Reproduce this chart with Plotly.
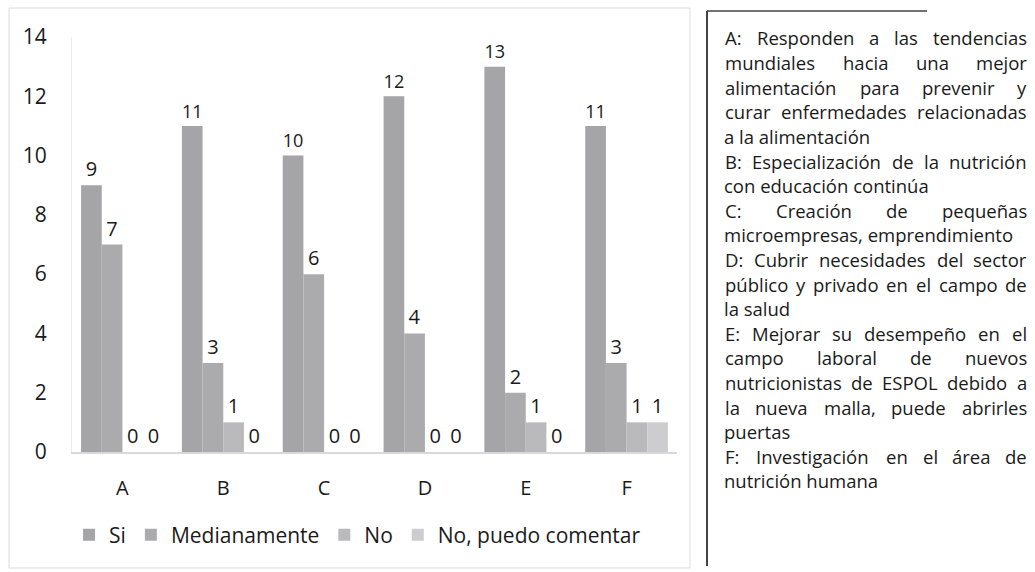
import plotly.graph_objects as go

categories = ["A", "B", "C", "D", "E", "F"]
si = [9, 11, 10, 12, 13, 11]
medianamente = [7, 3, 6, 4, 2, 3]
no = [0, 1, 0, 0, 1, 1]
no_puedo = [0, 0, 0, 0, 0, 1]
series_names = ["Si", "Medianamente", "No", "No, puedo comentar"]
series_colors = ["#a5a5a7", "#ababad", "#bababc", "#cdcdd0"]

# (line text, is last line of its paragraph)
desc_lines = [
    ("A: Responden a las tendencias", False),
    ("mundiales hacia una mejor", False),
    ("alimentación para prevenir y", False),
    ("curar enfermedades relacionadas", False),
    ("a la alimentación", True),
    ("B: Especialización de la nutrición", False),
    ("con educación continúa", True),
    ("C: Creación de pequeñas", False),
    ("microempresas, emprendimiento", True),
    ("D: Cubrir necesidades del sector", False),
    ("público y privado en el campo de", False),
    ("la salud", True),
    ("E: Mejorar su desempeño en el", False),
    ("campo laboral de nuevos", False),
    ("nutricionistas de ESPOL debido a", False),
    ("la nueva malla, puede abrirles", False),
    ("puertas", True),
    ("F: Investigación en el área de", False),
    ("nutrición humana", True),
]

FONT = "Open Sans"
W, H = 1035, 572
PL, PR, PT, PB = 72, 677, 37, 452  # plot area in pixels


def px(x):
    return (x - PL) / (PR - PL)


def py(y):
    return (PB - y) / (PB - PT)


fig = go.Figure()
for name, vals, col in zip(series_names, [si, medianamente, no, no_puedo], series_colors):
    fig.add_trace(go.Bar(
        x=categories, y=vals, name=name, marker=dict(color=col, line=dict(width=0)),
        text=[str(v) for v in vals], textposition="outside", cliponaxis=False,
        textfont=dict(family=FONT, size=20, color="#1a1a1a"),
    ))

fig.update_layout(
    width=W, height=H,
    margin=dict(l=PL, r=W - PR, t=PT, b=H - PB, autoexpand=False),
    paper_bgcolor="white", plot_bgcolor="white",
    barmode="group", bargap=0.18, bargroupgap=0,
    font=dict(family=FONT, color="#1a1a1a"),
    showlegend=True,
    legend=dict(orientation="h", x=0.472, xanchor="center", y=1 - 535 / H, yanchor="middle",
                yref="container", xref="paper",
                font=dict(family=FONT, size=21, color="#1a1a1a"),
                itemwidth=30, traceorder="normal", bgcolor="rgba(0,0,0,0)"),
    xaxis=dict(showline=True, linecolor="#d9d9d9", linewidth=2, showgrid=False,
               ticks="", tickfont=dict(family=FONT, size=20, color="#1a1a1a"),
               ticklabelstandoff=17),
    yaxis=dict(range=[0, 14], dtick=2, showline=True, linecolor="#ececec", linewidth=1,
               showgrid=False, zeroline=False, ticks="",
               tickfont=dict(family=FONT, size=21, color="#1a1a1a"),
               ticklabelstandoff=20),
)

# chart border
fig.add_shape(type="rect", xref="paper", yref="paper",
              x0=px(9), x1=px(690), y0=py(568), y1=py(8),
              line=dict(color="#dcdcdc", width=1))
# right text box border
fig.add_shape(type="line", xref="paper", yref="paper",
              x0=px(707), x1=px(707), y0=py(566), y1=py(11),
              line=dict(color="#444444", width=2))
fig.add_shape(type="line", xref="paper", yref="paper",
              x0=px(707), x1=px(927), y0=py(11), y1=py(11),
              line=dict(color="#444444", width=1.5))

# approximate Open Sans advance widths (em) for justification
CW = {
    'a': .556, 'b': .613, 'c': .48, 'd': .613, 'e': .561, 'f': .336, 'g': .546, 'h': .614,
    'i': .258, 'j': .258, 'k': .53, 'l': .258, 'm': .932, 'n': .614, 'o': .603, 'p': .613,
    'q': .613, 'r': .409, 's': .477, 't': .353, 'u': .614, 'v': .5, 'w': .778, 'x': .524,
    'y': .5, 'z': .462, ' ': .26, ':': .266, ',': .245, '.': .266,
    'A': .633, 'B': .647, 'C': .631, 'D': .729, 'E': .556, 'F': .516, 'L': .519, 'M': .9,
    'O': .78, 'P': .604, 'S': .549,
}
ACC = str.maketrans("áéíóúñ", "aeioun")


def wlen(s, size):
    return sum(CW.get(ch, .56) for ch in s.translate(ACC)) * size


TX0, TX1 = 725, 1027
TSIZE = 18.5
line_h = 24.6
for i, (ln, last) in enumerate(desc_lines):
    ypx = 38 + i * line_h
    words = ln.split(" ")
    if last or len(words) == 1:
        fig.add_annotation(xref="paper", yref="paper", x=px(TX0 - 3), y=py(ypx),
                           xanchor="left", yanchor="middle", showarrow=False, text=ln,
                           font=dict(family=FONT, size=TSIZE, color="#1a1a1a"))
        continue
    widths = [wlen(w, TSIZE) for w in words]
    gap = (TX1 - TX0 - sum(widths)) / (len(words) - 1)
    xcur = TX0
    for w, ww in zip(words, widths):
        fig.add_annotation(xref="paper", yref="paper", x=px(xcur + ww / 2), y=py(ypx),
                           xanchor="center", yanchor="middle", showarrow=False, text=w,
                           font=dict(family=FONT, size=TSIZE, color="#1a1a1a"))
        xcur += ww + gap

fig.write_html("out.html", config={"displayModeBar": False},
               post_script="document.body.style.margin='0';")
